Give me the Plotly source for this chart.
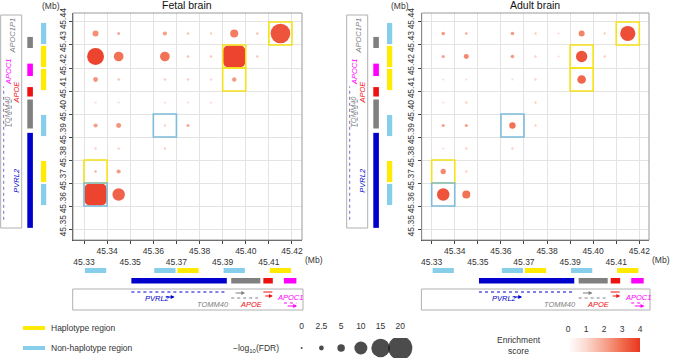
import numpy as np
import plotly.graph_objects as go
from plotly.colors import sample_colorscale

W, H = 674, 360
FONT = "Liberation Sans, Arial, Helvetica, sans-serif"

# ---------------- axis ticks (Mb) ----------------
x_ticks = [45.33, 45.34, 45.35, 45.36, 45.37, 45.38, 45.39, 45.40, 45.41, 45.42]
y_ticks = [45.35, 45.36, 45.37, 45.38, 45.39, 45.40, 45.41, 45.42, 45.43, 45.44]
x_tick_labels = ["45.33", "45.34", "45.35", "45.36", "45.37", "45.38", "45.39", "45.40", "45.41", "45.42"]
y_tick_labels = ["45.35", "45.36", "45.37", "45.38", "45.39", "45.40", "45.41", "45.42", "45.43", "45.44"]
bin_width = 0.01

# ---------------- interaction data: bin centres (Mb), -log10(FDR), enrichment ----------------
fetal_x = [45.335, 45.345, 45.365, 45.375, 45.385, 45.395, 45.405, 45.415,
           45.335, 45.345, 45.365, 45.375, 45.385, 45.395, 45.405,
           45.335, 45.345, 45.365, 45.375, 45.385, 45.395,
           45.335, 45.345, 45.365, 45.375, 45.385,
           45.335, 45.345, 45.365, 45.375,
           45.335, 45.345, 45.365,
           45.335, 45.345,
           45.335, 45.345]
fetal_y = [45.435] * 8 + [45.425] * 7 + [45.415] * 6 + [45.405] * 5 + [45.395] * 4 + [45.385] * 3 + [45.375] * 2 + [45.365] * 2
fetal_fdr = [3.6, 1.0, 2.0, 0.5, 0.3, 5.5, 0.5, 16.0,
             13.5, 7.0, 7.0, 0.5, 0.5, 24.0, 0.5,
             2.5, 0.5, 0.4, 0.4, 0.3, 2.2,
             0.2, 0.2, 0.2, 0.2, 0.2,
             2.0, 2.7, 0.3, 1.0,
             0.3, 0.3, 0.3,
             0.5, 2.0,
             24.0, 9.5]
fetal_score = [2.5, 2.0, 2.2, 1.5, 1.2, 2.8, 1.5, 3.6,
               3.9, 3.0, 3.0, 1.5, 1.4, 3.9, 1.4,
               2.4, 1.5, 1.3, 1.3, 1.0, 2.3,
               1.0, 1.0, 1.0, 1.0, 1.0,
               2.2, 2.4, 1.2, 2.0,
               1.2, 1.2, 1.2,
               1.8, 2.2,
               3.9, 3.3]

adult_x = [45.335, 45.345, 45.365, 45.375, 45.385, 45.395, 45.405, 45.415,
           45.335, 45.345, 45.365, 45.375, 45.385, 45.395, 45.405,
           45.335, 45.345, 45.365, 45.375, 45.395,
           45.335, 45.345, 45.375,
           45.335, 45.345, 45.365, 45.375,
           45.335, 45.345, 45.365,
           45.335, 45.345,
           45.335, 45.345]
adult_y = [45.435] * 8 + [45.425] * 7 + [45.415] * 5 + [45.405] * 3 + [45.395] * 4 + [45.385] * 3 + [45.375] * 2 + [45.365] * 2
adult_fdr = [1.4, 0.6, 1.4, 0.3, 0.2, 3.6, 0.3, 12.0,
             1.0, 2.7, 1.4, 0.3, 0.2, 8.5, 0.3,
             0.2, 0.2, 0.2, 0.3, 6.0,
             0.2, 0.3, 0.3,
             1.0, 1.0, 4.0, 0.3,
             0.2, 0.3, 0.3,
             3.0, 0.3,
             9.5, 5.5]
adult_score = [2.3, 2.0, 2.3, 1.3, 1.0, 2.7, 1.3, 3.7,
               2.2, 2.6, 2.3, 1.3, 1.0, 3.6, 1.3,
               1.0, 1.0, 1.0, 1.2, 3.2,
               1.0, 1.2, 1.2,
               2.2, 2.2, 3.0, 1.2,
               1.0, 1.2, 1.2,
               2.6, 1.2,
               3.6, 3.0]

# highlighted interaction cells (bin start x, bin start y, region type)
box_x0 = [45.41, 45.39, 45.39, 45.36, 45.33, 45.33]
box_y0 = [45.43, 45.42, 45.41, 45.39, 45.37, 45.36]
box_kind = ["hap", "hap", "hap", "non", "hap", "non"]

# region annotation bins
x_region_start = [45.33, 45.36, 45.37, 45.39, 45.41]
x_region_kind = ["non", "non", "hap", "non", "hap"]
y_region_start = [45.43, 45.42, 45.41, 45.39, 45.37, 45.36]
y_region_kind = ["non", "hap", "hap", "non", "hap", "non"]

# genes (Mb)
gene_names = ["PVRL2", "TOMM40", "APOE", "APOC1", "APOC1P1"]
gene_start = [45.3505, 45.3937, 45.4076, 45.4165, 45.4287]
gene_end = [45.3918, 45.4063, 45.4117, 45.4219, 45.4335]

# legends
fdr_legend_values = [0, 2.5, 5, 10, 15, 20]
fdr_legend_labels = ["0", "2.5", "5", "10", "15", "20"]
score_ticks = [0, 1, 2, 3, 4]

# ---------------- styles ----------------
REGION_COL = {"hap": "#FFEA00", "non": "#87CEEB"}
BOX_COL = {"hap": "#F6E21A", "non": "#7FBCD9"}
GENE_COL = {"PVRL2": "#0000CC", "TOMM40": "#808080", "APOE": "#EE1111", "APOC1": "#FF00FF", "APOC1P1": "#808080"}
COLORSCALE = [[0, "#FFFFFF"], [0.25, "#FBD9CF"], [0.5, "#F6A690"], [0.75, "#F16A4C"], [1, "#EA3520"]]
TEXT_COL = "#333333"
SIZE_CAP = 20  # -log10(FDR) above which the dot fills its cell


def px2x(p):
    return p / W


def py2y(p):
    return 1 - p / H


def dia(v):
    return 2 + 1.1 * v


TOP, BOTTOM = 13, 240
panels = [
    dict(title="Fetal brain", xa="x", ya="y", left=73, right=302, box_left=0.7,
         xs=fetal_x, ys=fetal_y, fdr=fetal_fdr, sc=fetal_score),
    dict(title="Adult brain", xa="x2", ya="y2", left=421.7, right=649, box_left=346.7,
         xs=adult_x, ys=adult_y, fdr=adult_fdr, sc=adult_score),
]

fig = go.Figure()
shapes = []
annotations = []

for p in panels:
    xa, ya = p["xa"], p["ya"]
    xs, ys = np.array(p["xs"]), np.array(p["ys"])
    fdr, sc = np.array(p["fdr"]), np.array(p["sc"])
    small = fdr < SIZE_CAP
    fig.add_trace(go.Scatter(
        x=xs[small], y=ys[small], mode="markers", xaxis=xa, yaxis=ya, showlegend=False,
        marker=dict(size=dia(fdr[small]), color=sc[small], colorscale=COLORSCALE, cmin=0, cmax=4,
                    line=dict(width=0), opacity=0.95)))

    # saturated cells: dot clipped to its cell -> rounded square
    for cx, cy, s in zip(xs[~small], ys[~small], sc[~small]):
        col = sample_colorscale(COLORSCALE, [s / 4])[0]
        hw = bin_width / 2 - 0.0002
        r = 0.0026
        x0, x1, y0, y1 = cx - hw, cx + hw, cy - hw, cy + hw
        path = (f"M{x0 + r},{y0} L{x1 - r},{y0} Q{x1},{y0} {x1},{y0 + r} L{x1},{y1 - r} "
                f"Q{x1},{y1} {x1 - r},{y1} L{x0 + r},{y1} Q{x0},{y1} {x0},{y1 - r} "
                f"L{x0},{y0 + r} Q{x0},{y0} {x0 + r},{y0} Z")
        shapes.append(dict(type="path", xref=xa, yref=ya, path=path, fillcolor=col,
                           line=dict(width=0), opacity=0.95))

    # frame
    shapes.append(dict(type="rect", xref=f"{xa} domain", yref=f"{ya} domain", x0=0, x1=1, y0=0, y1=1,
                       line=dict(color="#9a9a9a", width=1), layer="above"))
    # highlight boxes
    for bx, by, k in zip(box_x0, box_y0, box_kind):
        shapes.append(dict(type="rect", xref=xa, yref=ya, x0=bx, x1=bx + bin_width, y0=by,
                           y1=by + bin_width, line=dict(color=BOX_COL[k], width=1.6)))

    # x region bars & gene bars
    gap = 0.0004
    for s, k in zip(x_region_start, x_region_kind):
        shapes.append(dict(type="rect", xref=xa, yref="paper", x0=s + gap, x1=s + bin_width - gap,
                           y0=py2y(273), y1=py2y(268), fillcolor=REGION_COL[k], line=dict(width=0)))
    for g, s, e in zip(gene_names, gene_start, gene_end):
        if e < 45.4243:
            shapes.append(dict(type="rect", xref=xa, yref="paper", x0=s, x1=e,
                               y0=py2y(283.5), y1=py2y(278), fillcolor=GENE_COL[g], line=dict(width=0)))
    # y region bars & gene bars
    bl = p["box_left"]
    for s, k in zip(y_region_start, y_region_kind):
        shapes.append(dict(type="rect", xref="paper", yref=ya, x0=px2x(bl + 40.3), x1=px2x(bl + 45.5),
                           y0=s + gap, y1=s + bin_width - gap, fillcolor=REGION_COL[k], line=dict(width=0)))
    for g, s, e in zip(gene_names, gene_start, gene_end):
        shapes.append(dict(type="rect", xref="paper", yref=ya, x0=px2x(bl + 26.6), x1=px2x(bl + 32.2),
                           y0=s, y1=e, fillcolor=GENE_COL[g], line=dict(width=0)))

    # ---- left gene track box
    shapes.append(dict(type="rect", xref="paper", yref="paper", x0=px2x(bl), x1=px2x(bl + 21),
                       y0=py2y(228), y1=py2y(15), line=dict(color="#b0b0b0", width=1)))
    shapes.append(dict(type="line", xref="paper", yref=ya, x0=px2x(bl + 3), x1=px2x(bl + 3),
                       y0=45.354, y1=45.412, line=dict(color="#7070c0", width=1, dash="dot")))
    shapes.append(dict(type="line", xref="paper", yref=ya, x0=px2x(bl + 10.5), x1=px2x(bl + 10.5),
                       y0=45.3945, y1=45.4065, line=dict(color="#8080a0", width=1, dash="dot")))
    left_labels = [("APOC1P1", 45.4343, 11.7), ("APOC1", 45.4183, 8.5), ("APOE", 45.4096, 16),
                   ("TOMM40", 45.4009, 7), ("PVRL2", 45.3713, 15)]
    for g, yv, dx in left_labels:
        annotations.append(dict(text=f"<i>{g}</i>", xref="paper", yref=ya, x=px2x(bl + dx), y=yv,
                                showarrow=False, textangle=-90, font=dict(size=7.5, color=GENE_COL[g]),
                                xanchor="center", yanchor="middle"))

    # ---- bottom gene track box
    shapes.append(dict(type="rect", xref="paper", yref="paper", x0=px2x(p["left"] - 0.3),
                       x1=px2x(p["right"] + 1), y0=py2y(310), y1=py2y(289),
                       line=dict(color="#b0b0b0", width=1)))
    tl = [("PVRL2", 292, "dot"), ("TOMM40", 298, "dot"), ("APOE", 292, "dash"), ("APOC1", 303, "dot")]
    for g, row, dsh in tl:
        i = gene_names.index(g)
        shapes.append(dict(type="line", xref=xa, yref="paper", x0=gene_start[i], x1=gene_end[i],
                           y0=py2y(row), y1=py2y(row), line=dict(color=GENE_COL[g], width=1, dash=dsh)))
    blabels = [("PVRL2", 45.3616, 298), ("TOMM40", 45.3858, 304), ("APOE", 45.4024, 304), ("APOC1", 45.4128, 297)]
    for g, xv, row in blabels:
        annotations.append(dict(text=f"<i>{g}</i>", xref=xa, yref="paper", x=xv, y=py2y(row),
                                showarrow=False, font=dict(size=7.5, color=GENE_COL[g]),
                                xanchor="left" if g == "APOC1" else "center", yanchor="middle"))
    arrows = [("PVRL2", 45.3692, 297, 10), ("TOMM40", 45.3997, 293, 11),
              ("APOE", 45.4117, 296, 9), ("APOC1", 45.4222, 306, 11)]
    for g, tip, row, ln in arrows:
        annotations.append(dict(text="", xref=xa, yref="paper", x=tip, y=py2y(row), ax=-ln, ay=0,
                                showarrow=True, arrowhead=2, arrowsize=0.7, arrowwidth=1.1,
                                arrowcolor=GENE_COL[g]))

    # titles and unit labels
    annotations.append(dict(text=p["title"], xref="paper", yref="paper", x=px2x((p["left"] + p["right"]) / 2),
                            y=py2y(5.5), showarrow=False, font=dict(size=10.5, color="#111"),
                            xanchor="center", yanchor="middle"))
    annotations.append(dict(text="(Mb)", xref="paper", yref="paper", x=px2x(p["left"] - 22), y=py2y(6),
                            showarrow=False, font=dict(size=8.5, color=TEXT_COL), xanchor="center", yanchor="middle"))
    annotations.append(dict(text="(Mb)", xref="paper", yref="paper", x=px2x(min(p["right"] + 12, 664)),
                            y=py2y(259.5), showarrow=False, font=dict(size=8.5, color=TEXT_COL),
                            xanchor="center", yanchor="middle"))

# ---------------- size legend ----------------
fig.add_trace(go.Scatter(x=fdr_legend_labels, y=[0] * len(fdr_legend_labels), mode="markers",
                         xaxis="x3", yaxis="y3", showlegend=False,
                         marker=dict(size=[dia(v) for v in fdr_legend_values], color="black", line=dict(width=0))))
# ---------------- colour legend ----------------
grad = np.linspace(0, 4, 121)
fig.add_trace(go.Heatmap(x=grad, y=[0], z=[grad], xaxis="x4", yaxis="y4", colorscale=COLORSCALE,
                         zmin=0, zmax=4, showscale=False, hoverinfo="skip"))

# region legend
for k, lbl, row in [("hap", "Haplotype region", 328), ("non", "Non-haplotype region", 348)]:
    shapes.append(dict(type="rect", xref="paper", yref="paper", x0=px2x(23), x1=px2x(45),
                       y0=py2y(row + 2), y1=py2y(row - 2), fillcolor=REGION_COL[k], line=dict(width=0)))
    annotations.append(dict(text=lbl, xref="paper", yref="paper", x=px2x(49), y=py2y(row), showarrow=False,
                            font=dict(size=8.5, color=TEXT_COL), xanchor="left", yanchor="middle"))
annotations.append(dict(text="\u2212log<sub>10</sub>(FDR)", xref="paper", yref="paper", x=px2x(256), y=py2y(348),
                        showarrow=False, font=dict(size=8.5, color=TEXT_COL), xanchor="center", yanchor="middle"))
annotations.append(dict(text="Enrichment<br>score", xref="paper", yref="paper", x=px2x(519), y=py2y(345),
                        showarrow=False, font=dict(size=8.5, color=TEXT_COL), xanchor="center", yanchor="middle"))

# ---------------- axes ----------------
x_tick_text = [("<br>" + t) if i % 2 == 0 else t for i, t in enumerate(x_tick_labels)]
common_x = dict(range=[45.32524, 45.42433], tickvals=x_ticks, ticktext=x_tick_text, showgrid=True,
                gridcolor="#e3e3e3", gridwidth=1, zeroline=False, showline=True, linecolor="#444",
                ticks="outside", ticklen=3, tickcolor="#444", tickfont=dict(size=8.5, color=TEXT_COL),
                tickangle=0, automargin=False)
common_y = dict(range=[45.34522, 45.44391], tickvals=y_ticks, ticktext=y_tick_labels, showgrid=True,
                gridcolor="#e3e3e3", gridwidth=1, zeroline=False, showline=True, linecolor="#444",
                ticks="outside", ticklen=3, tickcolor="#444", tickfont=dict(size=8.5, color=TEXT_COL),
                tickangle=-90, ticklabelshift=-2, automargin=False)

fig.update_layout(
    width=W, height=H, autosize=False, margin=dict(l=0, r=0, t=0, b=0, autoexpand=False),
    paper_bgcolor="white", plot_bgcolor="white", font=dict(family=FONT, size=9, color=TEXT_COL),
    xaxis=dict(domain=[px2x(73), px2x(302)], anchor="y", **common_x),
    yaxis=dict(domain=[py2y(BOTTOM), py2y(TOP)], anchor="x", **common_y),
    xaxis2=dict(domain=[px2x(421.7), px2x(649)], anchor="y2",
                **{**common_x, "range": [45.32567, 45.42420]}),
    yaxis2=dict(domain=[py2y(BOTTOM), py2y(TOP)], anchor="x2", **common_y),
    xaxis3=dict(domain=[px2x(292.2), px2x(421.8)], anchor="y3", side="top", type="category",
                showgrid=False, zeroline=False, showline=False, ticks="", ticklabelstandoff=6,
                tickfont=dict(size=8.5, color=TEXT_COL), automargin=False),
    yaxis3=dict(domain=[py2y(358), py2y(338)], anchor="x3", range=[-1, 1], visible=False, automargin=False),
    xaxis4=dict(domain=[px2x(568), px2x(640)], anchor="y4", side="top", range=[0, 4], tickvals=score_ticks,
                showgrid=False, zeroline=False, showline=False, ticks="", ticklabelstandoff=3,
                tickfont=dict(size=8.5, color=TEXT_COL), automargin=False),
    yaxis4=dict(domain=[py2y(352), py2y(338)], anchor="x4", range=[-0.5, 0.5], visible=False, automargin=False),
    shapes=shapes, annotations=annotations,
)

fig.write_html("out.html", config={"displayModeBar": False},
               post_script="document.body.style.margin='0';document.body.style.padding='0';")
